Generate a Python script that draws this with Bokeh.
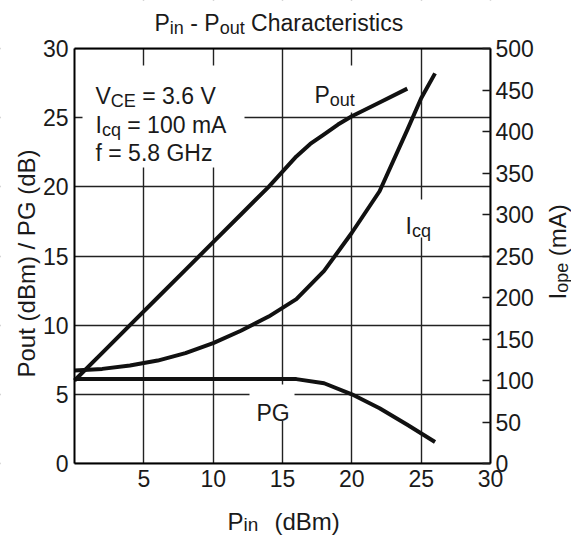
import math
from bokeh.plotting import figure
from bokeh.models import (Range1d, LinearAxis, FixedTicker, Label, BoxAnnotation)
from bokeh.embed import file_html
from bokeh.resources import INLINE

# ---------------- data ----------------
pin_pout = [0, 2, 4, 6, 8, 10, 12, 14, 15, 16, 17, 18, 19, 20, 22, 24]
pout = [6.0, 8.0, 10.0, 12.0, 14.0, 16.0, 18.0, 20.0, 21.1, 22.2, 23.1, 23.8, 24.5, 25.1, 26.1, 27.1]

pin_icq = [0, 2, 4, 6, 8, 10, 12, 14, 16, 18, 20, 22, 24, 25, 26]
icq_ma = [112, 114, 118, 124, 133, 145, 160, 177, 198, 232, 278, 328, 402, 440, 470]

pin_pg = [0, 16, 18, 20, 22, 24, 26]
pg = [6.1, 6.1, 5.8, 5.0, 4.0, 2.8, 1.55]

x_ticks = [5, 10, 15, 20, 25, 30]
y_ticks = [0, 5, 10, 15, 20, 25, 30]
ma_ticks = [0, 50, 100, 150, 200, 250, 300, 350, 400, 450, 500]
X_MAX, Y_MAX, MA_MAX = 30, 30, 500

# ---------------- geometry (page px; canvas sits at page 8,8) ----------------
OFF = 8
W, H = 571, 537
BL, BT, BR, BB = 82, 56, 498, 471    # plot box on the page
KX = (BR - BL) / X_MAX               # px per x unit
KY = (BB - BT) / Y_MAX               # px per y unit
x0 = -(BL - OFF) / KX
x1 = X_MAX + (OFF + W - BR) / KX
y0 = -(OFF + H - BB) / KY
y1 = Y_MAX + (BT - OFF) / KY

FONT = "Liberation Sans"
TXT = "#1a1a1a"

p = figure(width=W, height=H, output_backend="svg", toolbar_location=None,
           x_range=Range1d(x0, x1), y_range=Range1d(y0, y1),
           min_border=0)
p.extra_y_ranges = {"mA": Range1d(y0 * MA_MAX / Y_MAX, y1 * MA_MAX / Y_MAX)}
p.background_fill_color = "white"
p.border_fill_color = "white"
p.outline_line_color = None

# grid (library grid, overflow masked below)
p.xgrid.ticker = FixedTicker(ticks=x_ticks)
p.ygrid.ticker = FixedTicker(ticks=y_ticks)
p.grid.grid_line_color = "#222222"
p.grid.grid_line_width = 1.4

# axes placed at the plot box edges
xa = p.xaxis[0]
ya = p.yaxis[0]
xa.ticker = FixedTicker(ticks=x_ticks)
ya.ticker = FixedTicker(ticks=y_ticks)
xa.fixed_location = 0
ya.fixed_location = 0
xa.bounds = (0, X_MAX)
ya.bounds = (0, Y_MAX)
for ax in (xa, ya):
    ax.axis_line_color = "black"
    ax.axis_line_width = 2
    ax.major_tick_in = 0
    ax.major_tick_out = 0
    ax.minor_tick_line_color = None
    ax.major_label_text_font = FONT
    ax.major_label_text_font_size = "23px"
    ax.major_label_text_color = TXT
xa.major_label_standoff = 6
ya.major_label_standoff = 6

rax = LinearAxis(y_range_name="mA", ticker=FixedTicker(ticks=ma_ticks),
                 fixed_location=X_MAX, bounds=(0, MA_MAX))
rax.axis_line_color = "black"
rax.axis_line_width = 2
rax.major_tick_in = 8
rax.major_tick_out = 0
rax.major_tick_line_width = 1.5
rax.major_tick_line_color = "#1a1a1a"
rax.minor_tick_line_color = None
rax.major_label_text_font = FONT
rax.major_label_text_font_size = "23px"
rax.major_label_text_color = TXT
rax.major_label_standoff = 5
p.add_layout(rax, "right")

tax = LinearAxis(ticker=FixedTicker(ticks=[]), fixed_location=Y_MAX, bounds=(0, X_MAX))
tax.axis_line_color = "black"
tax.axis_line_width = 2
tax.major_tick_in = 0
tax.major_tick_out = 0
tax.minor_tick_line_color = None
p.add_layout(tax, "above")

# page px -> data coords
def X(px):
    return (px - BL) / KX
def Y(py):
    return (BB - py) / KY

def mask(**kw):
    p.add_layout(BoxAnnotation(fill_color="white", fill_alpha=1.0, line_color=None,
                               level="underlay", **kw))

# hide grid overflow outside the plot box
mask(right=0)
mask(left=X_MAX)
mask(top=0)
mask(bottom=Y_MAX)
# white gaps in the grid behind labels
for (l, r, t, b) in [(90, 252, 73, 175), (315, 372, 73, 120),
                     (405, 445, 207, 245), (257, 302, 392, 428)]:
    mask(left=X(l), right=X(r), top=Y(t), bottom=Y(b))

# curves
LW = 4
p.line(pin_pout, pout, line_width=LW, line_color="#111111", line_join="round")
p.line(pin_icq, icq_ma, y_range_name="mA", line_width=LW, line_color="#111111", line_join="round")
p.line(pin_pg, pg, line_width=LW, line_color="#111111", line_join="round")

# ---------------- text helpers ----------------
WID = {' ': 278, '-': 333, '.': 278, '/': 278, '=': 584, '(': 333, ')': 333,
       'A': 667, 'B': 667, 'C': 722, 'E': 667, 'G': 778, 'H': 722, 'I': 278,
       'P': 667, 'V': 667, 'a': 556, 'c': 500, 'd': 556, 'e': 556, 'f': 278,
       'h': 556, 'i': 222, 'm': 833, 'n': 556, 'o': 556, 'p': 556, 'q': 556,
       'r': 333, 's': 500, 't': 278, 'u': 556, 'z': 500}
def tw(s, fs):
    return sum(WID.get(c, 556) for c in s) * fs / 1000.0

# screen units: relative to frame (= whole canvas) bottom-left, y upward
def SX(px):
    return px - OFF
def SY(py):
    return OFF + H - py

def rich(pieces, px, py, size=23, sub=18, angle=0.0, drop=5):
    for text, is_sub in pieces:
        fs = sub if is_sub else size
        lead = len(text) - len(text.lstrip(' '))
        adv0 = lead * 0.278 * fs
        if angle == 0:
            px += adv0
        else:
            py -= adv0
        t = text.lstrip(' ')
        if angle == 0:
            lx, ly = px, py + (drop if is_sub else 0)
        else:
            lx, ly = px + (drop if is_sub else 0), py
        p.add_layout(Label(x=SX(lx), y=SY(ly), x_units="screen", y_units="screen",
                           text=t, text_font=FONT,
                           text_font_size=f"{fs}px", text_color=TXT,
                           angle=angle, text_align="left",
                           text_baseline="alphabetic"))
        adv = tw(t, fs)
        if angle == 0:
            px += adv
        else:
            py -= adv

# title
rich([("P", 0), ("in", 1), (" - P", 0), ("out", 1), (" Characteristics", 0)], 162, 30)
# conditions
rich([("V", 0), ("CE", 1), (" = 3.6 V", 0)], 103, 103)
rich([("I", 0), ("cq", 1), (" = 100 mA", 0)], 103, 132)
rich([("f = 5.8 GHz", 0)], 103, 160)
# curve labels
rich([("P", 0), ("out", 1)], 322, 102)
rich([("I", 0), ("cq", 1)], 413, 233)
rich([("PG", 0)], 264, 420)
# axis titles
rich([("P", 0), ("in", 1)], 235, 529, size=24, sub=19, drop=3)
rich([("(dBm)", 0)], 282, 529, size=24)
rich([("Pout (dBm) / PG (dB)", 0)], 34, 385, size=24, angle=math.pi / 2)
rich([("I", 0), ("ope", 1), (" (mA)", 0)], 565, 307, size=24, sub=18,
     angle=math.pi / 2, drop=4)

open("out.html", "w").write(file_html(p, INLINE))
